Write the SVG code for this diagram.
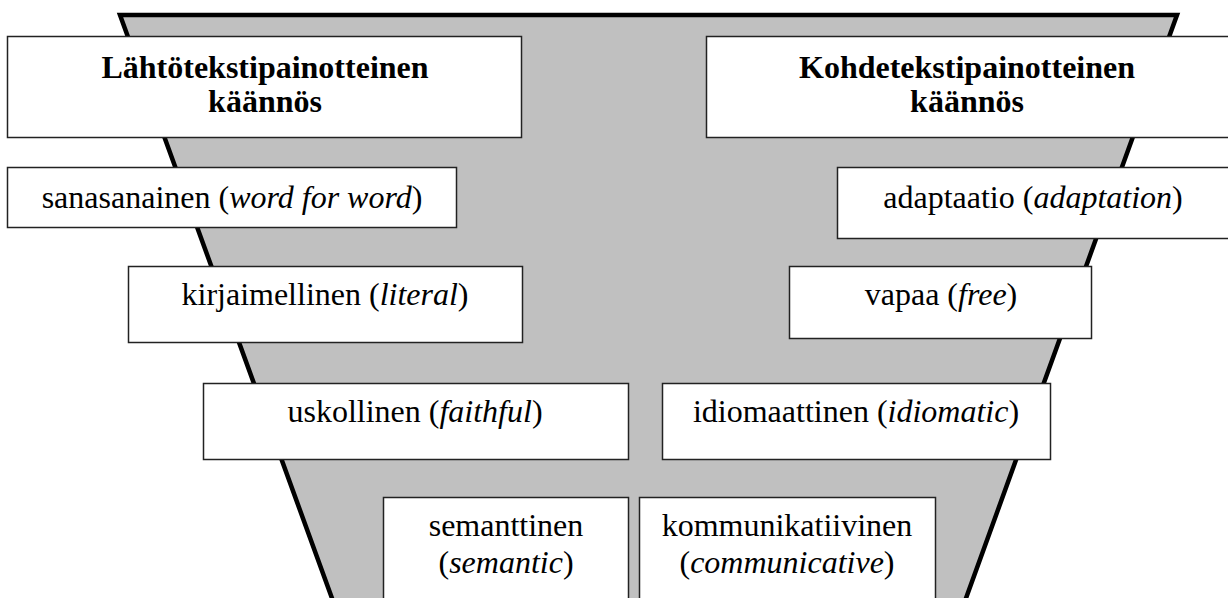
<svg xmlns="http://www.w3.org/2000/svg" width="1228" height="598" viewBox="0 0 1228 598">
<style>
.box{fill:#fff;stroke:#222;stroke-width:1.5}
.t{font-family:"Liberation Serif","Times New Roman",serif;font-size:32px;fill:#000;text-anchor:middle}
.b{font-weight:bold}
.i{font-style:italic}
</style>
<rect width="1228" height="598" fill="#fff"/>
<g id="funnel">
<polygon points="120,15 1177,15 961,612 337,612" fill="#c0c0c0" stroke="#000" stroke-width="4.5" stroke-linejoin="miter"/>
</g>
<g id="n-lahto">
<rect class="box" x="7.5" y="36.5" width="514" height="101"/>
<text class="t b" x="265" y="78">Lähtötekstipainotteinen</text>
<text class="t b" x="265" y="112">käännös</text>
</g>
<g id="n-kohde">
<rect class="box" x="706.5" y="36.5" width="530" height="101"/>
<text class="t b" x="967" y="78">Kohdetekstipainotteinen</text>
<text class="t b" x="967" y="112">käännös</text>
</g>
<g id="n-sanasanainen">
<rect class="box" x="7.5" y="167.5" width="449" height="60"/>
<text class="t" x="232" y="208">sanasanainen (<tspan class="i">word for word</tspan>)</text>
</g>
<g id="n-adaptaatio">
<rect class="box" x="837.5" y="167.5" width="400" height="71"/>
<text class="t" x="1033" y="208">adaptaatio (<tspan class="i">adaptation</tspan>)</text>
</g>
<g id="n-kirjaimellinen">
<rect class="box" x="128.5" y="266.5" width="394" height="76"/>
<text class="t" x="325" y="305">kirjaimellinen (<tspan class="i">literal</tspan>)</text>
</g>
<g id="n-vapaa">
<rect class="box" x="789.5" y="266.5" width="302" height="72"/>
<text class="t" x="941" y="305">vapaa (<tspan class="i">free</tspan>)</text>
</g>
<g id="n-uskollinen">
<rect class="box" x="203.5" y="383.5" width="425" height="76"/>
<text class="t" x="415" y="422">uskollinen (<tspan class="i">faithful</tspan>)</text>
</g>
<g id="n-idiomaattinen">
<rect class="box" x="662.5" y="383.5" width="388" height="76"/>
<text class="t" x="856" y="422">idiomaattinen (<tspan class="i">idiomatic</tspan>)</text>
</g>
<g id="n-semanttinen">
<rect class="box" x="383.5" y="497.5" width="245" height="110"/>
<text class="t" x="506" y="536">semanttinen</text>
<text class="t" x="506" y="573">(<tspan class="i">semantic</tspan>)</text>
</g>
<g id="n-kommunikatiivinen">
<rect class="box" x="639.5" y="497.5" width="296" height="110"/>
<text class="t" x="787" y="536">kommunikatiivinen</text>
<text class="t" x="787" y="573">(<tspan class="i">communicative</tspan>)</text>
</g>
<g id="connectors"></g>
</svg>
